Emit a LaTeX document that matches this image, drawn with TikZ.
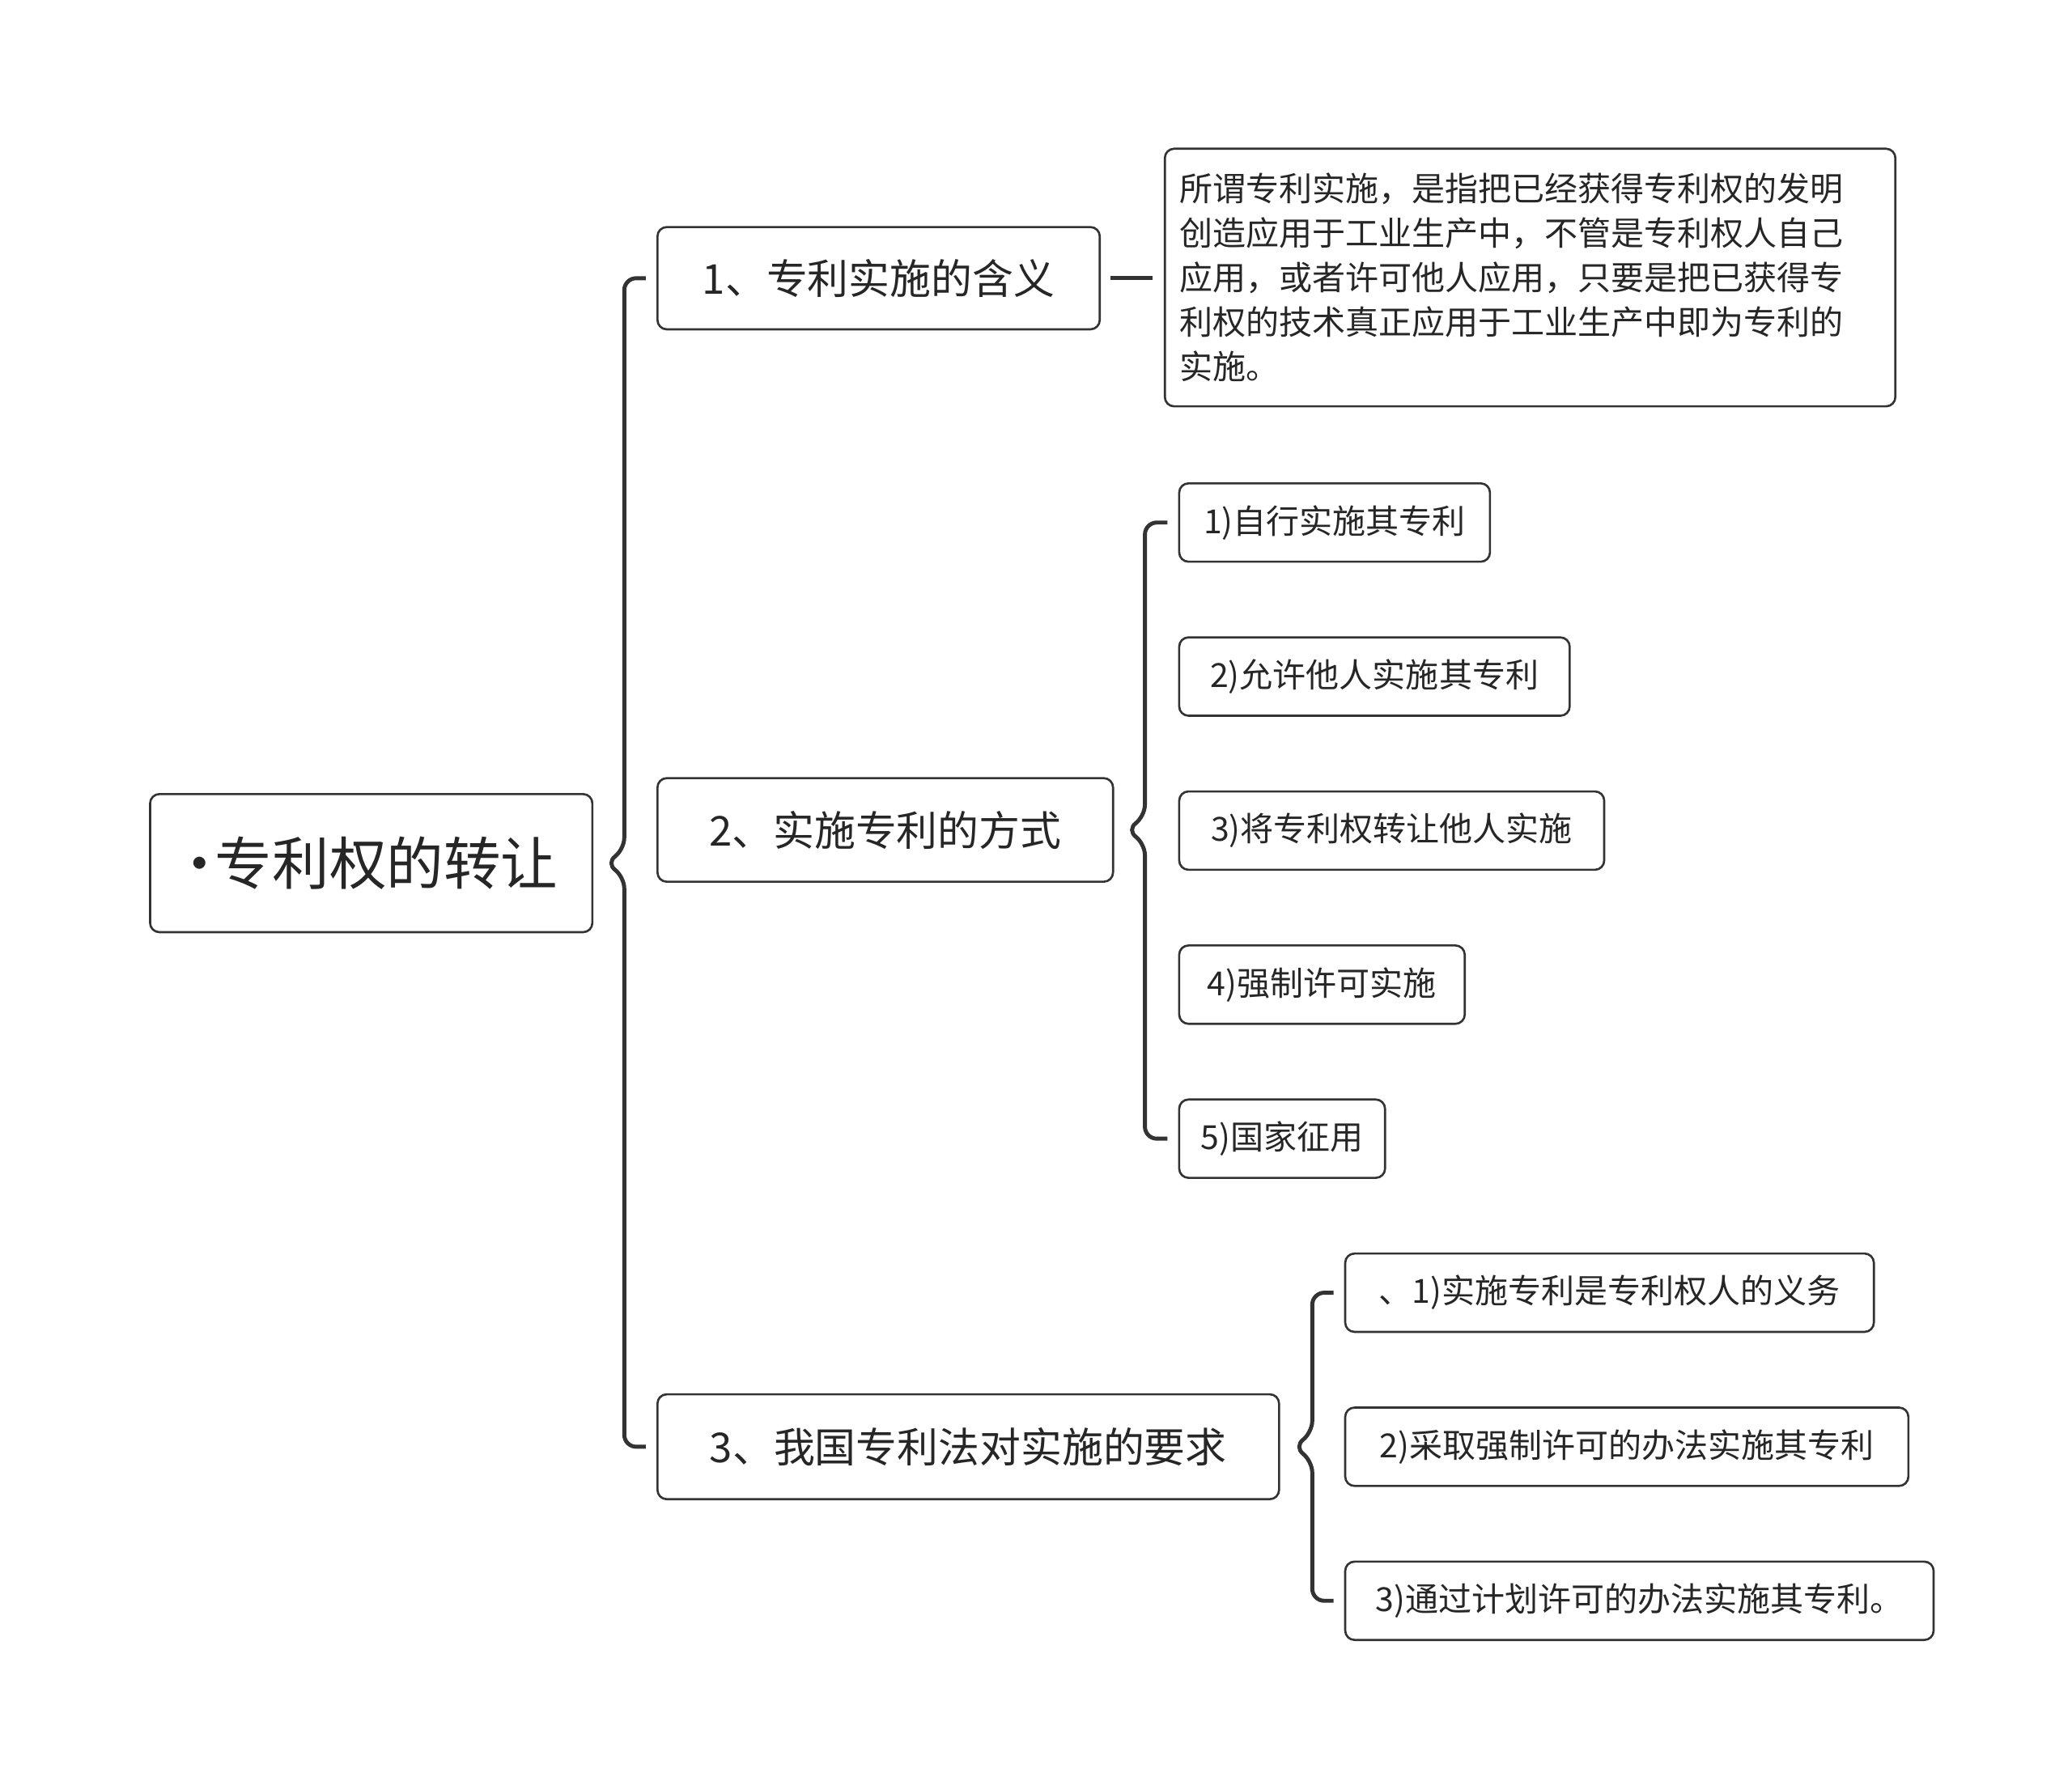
\documentclass[tikz,border=0pt]{standalone}
\usepackage{fontspec}
\setmainfont{Noto Sans CJK SC}
\begin{document}
\begin{tikzpicture}[x=1pt,y=-1pt,
 box/.style={draw=black!80,line width=1.6pt,rounded corners=7pt,fill=white,inner sep=0pt,text=black!85},
 br/.style={draw=black!80,line width=3pt,rounded corners=9pt}]
\useasboundingbox (0,0) rectangle (1560,1341);
\node[box,minimum width=333,minimum height=104,font=\fontsize{43}{50}\selectfont] (root) at (279.5,650) {\hspace{-10pt}•\hspace{-10pt}专利权的转让};
\node[box,minimum width=333,minimum height=77,font=\fontsize{31}{36}\selectfont] (a) at (661.5,209.5) {1、专利实施的含义};
\node[box,minimum width=343,minimum height=78,font=\fontsize{31}{36}\selectfont] (b) at (666.5,625) {2、实施专利的方式};
\node[box,minimum width=468,minimum height=79,font=\fontsize{31}{36}\selectfont] (c) at (729,1089.5) {3、我国专利法对实施的要求};
\node[box,minimum width=550,minimum height=194,font=\fontsize{25}{33.5}\selectfont,align=left,text width=528] (d) at (1152,209) {所谓专利实施，是指把已经获得专利权的发明\\创造应用于工业生产中，不管是专利权人自己\\应用，或者许可他人应用，只要是把已获得专\\利权的技术真正应用于工业生产中即为专利的\\实施。};
\tikzset{sub/.style={box,minimum height=59,anchor=west,font=\fontsize{25}{30}\selectfont}}
\node[sub,minimum width=234] (b1) at (887,393.5) {1)自行实施其专利};
\node[sub,minimum width=294] (b2) at (887,509.5) {2)允许他人实施其专利};
\node[sub,minimum width=320] (b3) at (887,625.5) {3)将专利权转让他人实施};
\node[sub,minimum width=215] (b4) at (887,741.5) {4)强制许可实施};
\node[sub,minimum width=155] (b5) at (887,857.5) {5)国家征用};
\node[sub,minimum width=398] (c1) at (1012,973.5) {、1)实施专利是专利权人的义务};
\node[sub,minimum width=424] (c2) at (1012,1089.5) {2)采取强制许可的办法实施其专利};
\node[sub,minimum width=443] (c3) at (1012,1205.5) {3)通过计划许可的办法实施其专利。};
\draw[br] ([xshift=-8]a.west) -- (470,209.5) -- (470,640) -- (456,650) -- (470,660) -- (470,1089.5) -- ([xshift=-8]c.west);
\draw[br] (836,209.5) -- (868,209.5);
\draw[br] ([xshift=-8]b1.west) -- (862,393.5) -- (862,615) -- (848,625) -- (862,635) -- (862,857.5) -- ([xshift=-8]b5.west);
\draw[br] ([xshift=-8]c1.west) -- (988,973.5) -- (988,1079) -- (974,1089.5) -- (988,1100) -- (988,1205.5) -- ([xshift=-8]c3.west);
\end{tikzpicture}
\end{document}
